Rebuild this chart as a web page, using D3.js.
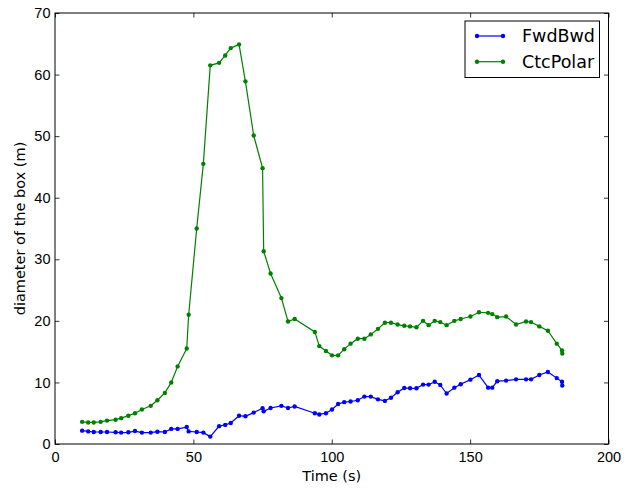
<!DOCTYPE html>
<html>
<head>
<meta charset="utf-8">
<script src="https://cdn.jsdelivr.net/npm/d3@7"></script>
<style>
  body { margin: 0; background: #fff; }
  svg { display: block; font-family: "DejaVu Sans", sans-serif; }
</style>
</head>
<body>
<div id="chart"></div>
<script>
// Time samples shared by both methods (s)
const times = [9.8, 12.0, 14.0, 16.5, 18.8, 21.9, 23.9, 26.5, 28.9, 31.4,
  34.6, 37.0, 39.7, 42.0, 44.3, 47.6, 48.3, 51.2, 53.6, 56.1,
  59.3, 61.5, 63.5, 66.5, 68.8, 71.8, 75.0, 75.4, 77.9, 81.8,
  84.2, 86.6, 93.9, 95.5, 97.9, 100.1, 102.3, 104.5, 106.8, 109.4,
  111.8, 114.1, 116.7, 119.2, 121.4, 123.8, 126.2, 128.3, 130.6, 133.0,
  135.0, 137.2, 139.2, 141.5, 144.3, 146.6, 150.1, 153.2, 156.5, 158.0,
  159.8, 163.0, 166.6, 170.2, 172.0, 175.0, 178.1, 181.3, 183.2, 183.3];

const fwdBwd = [2.17, 2.05, 1.95, 1.95, 1.95, 1.9, 1.85, 1.9, 2.1, 1.85,
  1.85, 2.0, 1.95, 2.45, 2.45, 2.75, 2.05, 1.95, 1.85, 1.2,
  2.9, 3.1, 3.4, 4.6, 4.5, 5.1, 5.8, 5.3, 5.85, 6.2,
  5.85, 6.1, 5.0, 4.8, 5.0, 5.6, 6.5, 6.8, 6.9, 7.1,
  7.7, 7.7, 7.25, 7.0, 7.5, 8.4, 9.1, 9.05, 9.05, 9.65,
  9.65, 10.1, 9.6, 8.2, 9.15, 9.7, 10.45, 11.2, 9.15, 9.15,
  10.2, 10.3, 10.5, 10.5, 10.5, 11.2, 11.7, 10.7, 10.1, 9.5];

const ctcPolar = [3.6, 3.5, 3.5, 3.6, 3.8, 3.95, 4.2, 4.6, 5.0, 5.6,
  6.2, 7.1, 8.3, 10.0, 12.6, 15.5, 21.0, 35.0, 45.5, 61.5,
  61.9, 63.1, 64.3, 64.9, 58.9, 50.1, 44.8, 31.3, 27.7, 23.7,
  19.9, 20.3, 18.2, 15.9, 15.1, 14.4, 14.4, 15.4, 16.3, 17.1,
  17.1, 17.8, 18.7, 19.7, 19.7, 19.4, 19.2, 19.1, 18.95, 20.0,
  19.3, 20.0, 19.8, 19.3, 20.0, 20.3, 20.7, 21.4, 21.3, 21.1,
  20.6, 20.7, 19.4, 19.9, 19.8, 19.1, 18.4, 16.3, 15.2, 14.7];

const xTicks = [0, 50, 100, 150, 200];
const yTicks = [0, 10, 20, 30, 40, 50, 60, 70];

const series = [
  { name: 'FwdBwd', values: fwdBwd, color: '#0000ff' },
  { name: 'CtcPolar', values: ctcPolar, color: '#008000' }
];

const width = 626, height = 490;
const margin = { top: 13, right: 17.5, bottom: 46, left: 55 };   // frame 55..608.5 x 13..444

const svg = d3.select('#chart').append('svg')
              .attr('width', width)
              .attr('height', height);

const x = d3.scaleLinear().domain([0, 200]).range([margin.left, width - margin.right]);
const y = d3.scaleLinear().domain([0, 70]).range([height - margin.bottom, margin.top]);

// --- Axes (ticks pointing inwards on all four sides, classic style) ---
const tickLen = 4.5;
const axisStyle = g => {
  g.select('.domain').remove();
  g.selectAll('.tick line').attr('stroke', '#000').attr('stroke-width', 0.8);
  g.selectAll('.tick text').attr('fill', '#000').style('font-size', '14.5px');
};

svg.append('g')
   .attr('transform', 'translate(0,' + y(0) + ')')
   .call(d3.axisBottom(x).tickValues(xTicks).tickSize(-tickLen).tickPadding(7.5))
   .call(axisStyle);

svg.append('g')
   .attr('transform', 'translate(0,' + y(70) + ')')
   .call(d3.axisTop(x).tickValues(xTicks).tickSize(-tickLen).tickFormat(''))
   .call(axisStyle);

svg.append('g')
   .attr('transform', 'translate(' + x(0) + ',0)')
   .call(d3.axisLeft(y).tickValues(yTicks).tickSize(-tickLen).tickPadding(4.5))
   .call(axisStyle);

svg.append('g')
   .attr('transform', 'translate(' + x(200) + ',0)')
   .call(d3.axisRight(y).tickValues(yTicks).tickSize(-tickLen).tickFormat(''))
   .call(axisStyle);

// --- Series ---
const line = d3.line()
               .x((d, i) => x(times[i]))
               .y(d => y(d));

series.forEach(s => {
  svg.append('path')
     .datum(s.values)
     .attr('fill', 'none')
     .attr('stroke', s.color)
     .attr('stroke-width', 1.2)
     .attr('d', line);

  svg.append('g')
     .selectAll('circle')
     .data(s.values)
     .enter()
     .append('circle')
     .attr('cx', (d, i) => x(times[i]))
     .attr('cy', d => y(d))
     .attr('r', 2.2)
     .attr('fill', s.color);
});

// --- Frame ---
svg.append('rect')
   .attr('x', x(0))
   .attr('y', y(70))
   .attr('width', x(200) - x(0))
   .attr('height', y(0) - y(70))
   .attr('fill', 'none')
   .attr('stroke', '#000')
   .attr('stroke-width', 1);

// --- Labels ---
svg.append('text')
   .attr('x', (x(0) + x(200)) / 2)
   .attr('y', 481)
   .attr('text-anchor', 'middle')
   .style('font-size', '14.5px')
   .text('Time (s)');

svg.append('text')
   .attr('transform', 'translate(25,' + ((y(0) + y(70)) / 2) + ') rotate(-90)')
   .attr('text-anchor', 'middle')
   .style('font-size', '14.5px')
   .text('diameter of the box (m)');

// --- Legend ---
const legend = svg.append('g').attr('transform', 'translate(465,21)');
legend.append('rect')
      .attr('width', 134.5)
      .attr('height', 56.5)
      .attr('fill', '#fff')
      .attr('stroke', '#000')
      .attr('stroke-width', 1);

series.forEach((s, i) => {
  const ly = 15 + i * 25.7;
  legend.append('line')
        .attr('x1', 12).attr('x2', 38)
        .attr('y1', ly).attr('y2', ly)
        .attr('stroke', s.color)
        .attr('stroke-width', 1.2);
  [12, 38].forEach(px => legend.append('circle')
        .attr('cx', px).attr('cy', ly).attr('r', 2.2).attr('fill', s.color));
  legend.append('text')
        .attr('x', 57)
        .attr('y', ly + 6.3)
        .style('font-size', '17.5px')
        .text(s.name);
});
</script>
</body>
</html>
